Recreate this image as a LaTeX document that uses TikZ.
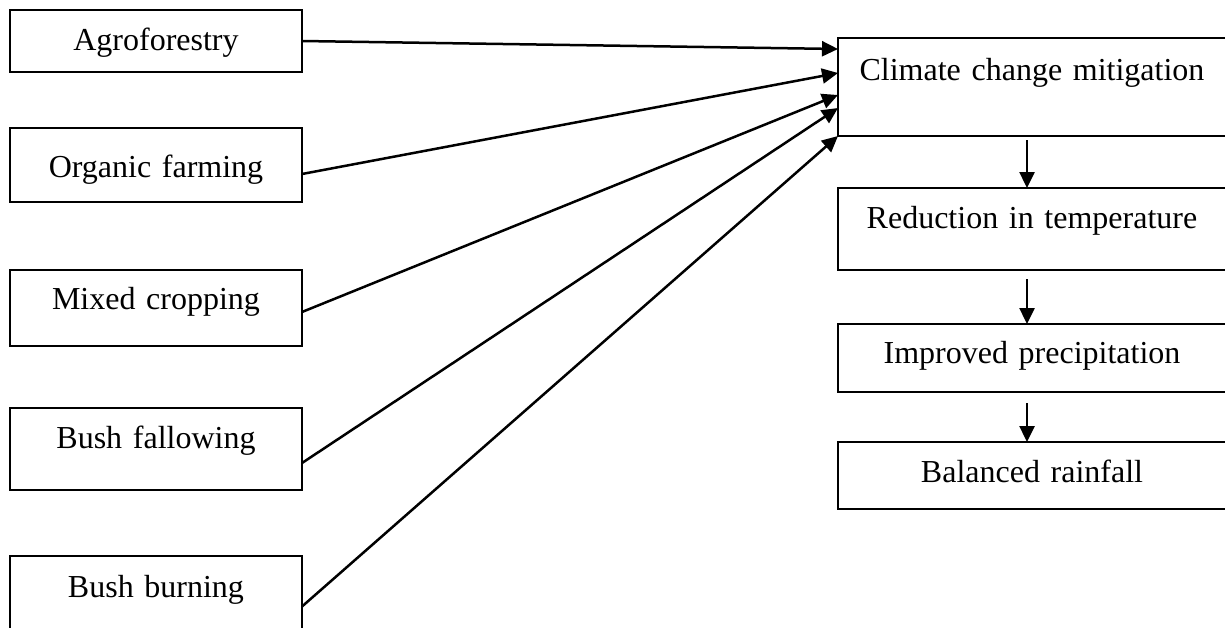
\documentclass[tikz,border=0pt]{standalone}
\usepackage{fontspec}
\setmainfont{Liberation Serif}
\usetikzlibrary{arrows.meta,calc}
\begin{document}
\begin{tikzpicture}[x=1pt,y=-1pt,
  box/.style={draw=black, line width=1.6pt, inner sep=0pt, outer sep=0pt, align=center, anchor=north west, font=\fontsize{32}{38}\selectfont},
  lbox/.style={box, text width=292pt},
  rbox/.style={box, text width=388pt},
  arr/.style={line width=2.5pt, -{Triangle[length=16pt,width=15pt]}}]
\useasboundingbox (0,0) rectangle (1225,627);
\node[lbox, text height=40pt, text depth=22pt] (agro) at (10,10) {Agroforestry};
\node[lbox, text height=49pt, text depth=25pt] (org) at (10,128) {Organic farming};
\node[lbox, text height=39pt, text depth=37pt] (mix) at (10,270) {Mixed cropping};
\node[lbox, text height=40pt, text depth=42pt] (fal) at (10,408) {Bush fallowing};
\node[lbox, text height=41pt, text depth=50pt] (burn) at (10,556) {Bush burning};
\node[rbox, text height=42pt, text depth=56pt] (clim) at (838,38) {Climate change mitigation};
\node[rbox, text height=40pt, text depth=42pt] (red) at (838,188) {Reduction in temperature};
\node[rbox, text height=39pt, text depth=29pt] (imp) at (838,324) {Improved precipitation};
\node[rbox, text height=40pt, text depth=27pt] (bal) at (838,442) {Balanced rainfall};
\draw[arr] (agro.east) -- ([yshift=-11pt]clim.north west);
\draw[arr] ([yshift=-9pt]org.east) -- ([yshift=-35pt]clim.north west);
\draw[arr] ([yshift=-4pt]mix.east) -- ([yshift=-57pt]clim.north west);
\draw[arr] ([yshift=-14pt]fal.east) -- ([yshift=-70pt]clim.north west);
\draw[arr] ([yshift=-5pt]burn.east) -- (clim.south west);
\coordinate (v1) at ($(clim.south)+(-5,4)$);
\coordinate (v2) at ($(red.south)+(-5,9)$);
\coordinate (v3) at ($(imp.south)+(-5,11)$);
\draw[arr] (v1) -- (v1 |- red.north);
\draw[arr] (v2) -- (v2 |- imp.north);
\draw[arr] (v3) -- (v3 |- bal.north);
\end{tikzpicture}
\end{document}
